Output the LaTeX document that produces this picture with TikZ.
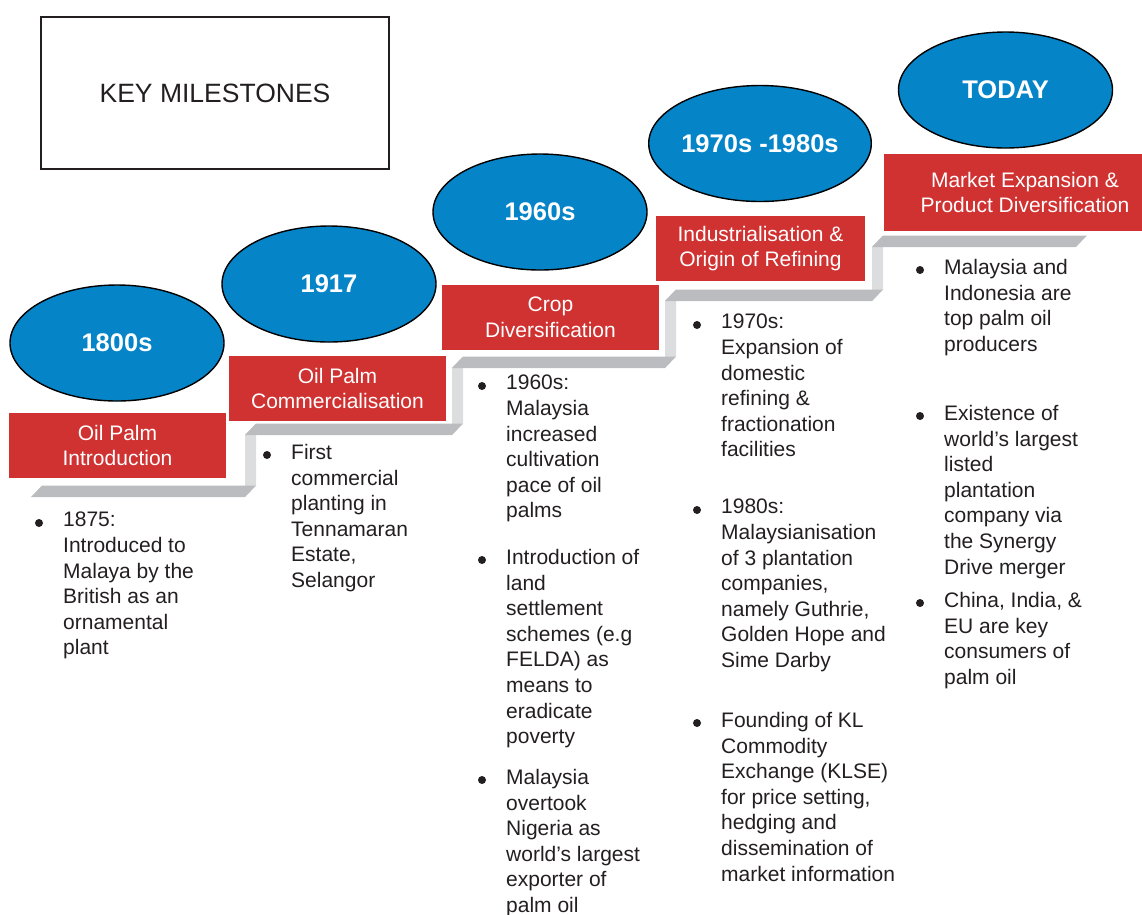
\documentclass[tikz,border=0pt]{standalone}
\usepackage{fontspec}
\setmainfont{Liberation Sans}
\usetikzlibrary{shapes.geometric}
\definecolor{stepblue}{HTML}{0584C8}
\definecolor{stepred}{HTML}{D03232}
\definecolor{tread}{HTML}{BBBCBF}
\definecolor{riser}{HTML}{DCDDDF}
\definecolor{ink}{HTML}{231F20}
\begin{document}
\begin{tikzpicture}[x=1pt, y=-1pt,
    era/.style={ellipse, draw=black, line width=1.4, fill=stepblue, minimum width=214, minimum height=116, inner sep=0pt, text=white, font=\fontsize{25.5}{30}\selectfont\bfseries},
    head/.style={fill=stepred, text=white, inner sep=0pt, minimum height=65, align=center, font=\fontsize{21}{25.6}\selectfont},
    bul/.style={anchor=north west, yshift=17.92pt, inner sep=0pt, align=left, text=ink, font=\fontsize{21}{25.6}\selectfont, execute at begin node=\strut}]
    \useasboundingbox (0,0) rectangle (1142,914);

    % staircase
    \foreach \xx/\ya/\yb in {245/497/435, 452/435/368, 665/368/301, 872/301/247}
        \fill[riser] (\xx,\ya) -- (\xx,\yb) -- ++(11,-11.5) -- (\xx+11,\ya-11.5) -- cycle;
    \foreach \xa/\xb/\yy in {31/245/497, 245/452/435, 452/665/368, 665/872/301, 872/1076/247}
        \fill[tread] (\xa,\yy) -- (\xb,\yy) -- ++(11,-11.5) -- (\xa+11,\yy-11.5) -- cycle;

    \node[draw=ink, line width=2.2, minimum width=348, minimum height=152, text=ink, font=\fontsize{26.5}{30}\selectfont] (title) at (215,93) {KEY MILESTONES\hspace{6pt}};

    \node[head, minimum width=217] (h1) at (117.5,445.5) {Oil Palm\\Introduction};
    \node[head, minimum width=217] (h2) at (337.5,388.5) {Oil Palm\\Commercialisation};
    \node[head, minimum width=217] (h3) at (550.5,317.5) {Crop\\Diversification};
    \node[head, minimum width=209] (h4) at (760.5,248.5) {Industrialisation \&\\Origin of Refining};
    \node[head, minimum width=282, minimum height=77] (h5) at (1025,192.5) {Market Expansion \&\\Product Diversification};

    \node[era] (e1) at (117,343) {1800s};
    \node[era] (e2) at (329,284) {1917};
    \node[era] (e3) at (540,212) {1960s};
    \node[era] (e4) at (760,143.5) {1970s -1980s};
    \node[era] (e5) at (1005.5,90) {TODAY};

    \node[bul] (i1a) at (63,530) {1875:\\Introduced to\\Malaya by the\\British as an\\ornamental\\plant};
    \node[bul] (i2a) at (291,462) {First\\commercial\\planting in\\Tennamaran\\Estate,\\Selangor};
    \node[bul] (i3a) at (506,393) {1960s:\\Malaysia\\increased\\cultivation\\pace of oil\\palms};
    \node[bul] (i3b) at (506,567) {Introduction of\\land\\settlement\\schemes (e.g\\FELDA) as\\means to\\eradicate\\poverty};
    \node[bul] (i3c) at (506,787) {Malaysia\\overtook\\Nigeria as\\world’s largest\\exporter of\\palm oil};
    \node[bul] (i4a) at (721,332) {1970s:\\Expansion of\\domestic\\refining \&\\fractionation\\facilities};
    \node[bul] (i4b) at (721,517) {1980s:\\Malaysianisation\\of 3 plantation\\companies,\\namely Guthrie,\\Golden Hope and\\Sime Darby};
    \node[bul] (i4c) at (721,730) {Founding of KL\\Commodity\\Exchange (KLSE)\\for price setting,\\hedging and\\dissemination of\\market information};
    \node[bul] (i5a) at (944,277) {Malaysia and\\Indonesia are\\top palm oil\\producers};
    \node[bul] (i5b) at (944,423) {Existence of\\world’s largest\\listed\\plantation\\company via\\the Synergy\\Drive merger};
    \node[bul] (i5c) at (944,610) {China, India, \&\\EU are key\\consumers of\\palm oil};

    \foreach \xx/\yy in {63/530, 291/462, 506/393, 506/567, 506/787, 721/332, 721/517, 721/730, 944/277, 944/423, 944/610}
        \fill[ink] (\xx-24,\yy-7) circle (4);
\end{tikzpicture}
\end{document}
